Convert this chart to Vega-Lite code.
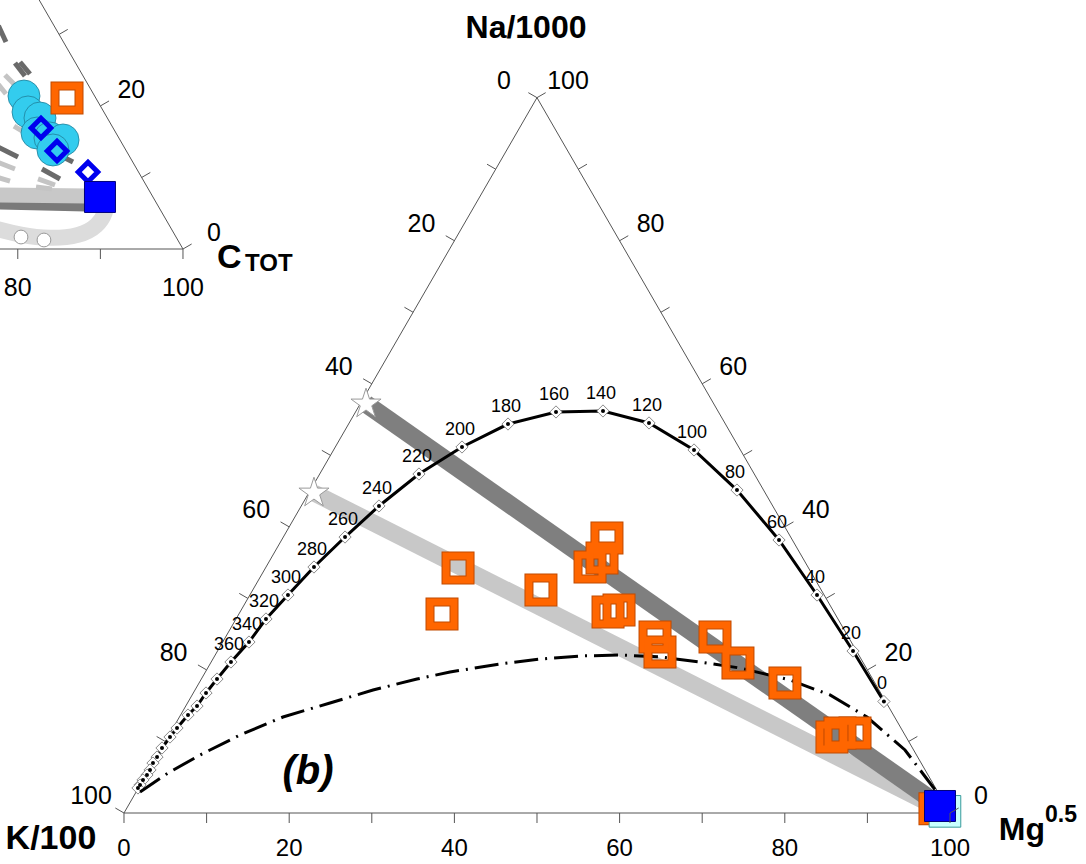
{
"$schema":"https://vega.github.io/schema/vega-lite/v6.json",
"width":1086,"height":864,"padding":0,"autosize":{"type":"none"},
"background":"#ffffff",
"config":{"view":{"stroke":null},"font":"Liberation Sans","text":{"font":"Liberation Sans"}},
"datasets":{
"tri":[{"x":0,"y":0,"i":0},{"x":100,"y":0,"i":1},{"x":50,"y":86.603,"i":2},{"x":0,"y":0,"i":3}],
"tb":[{"x":0,"y":0},{"x":10,"y":0},{"x":20,"y":0},{"x":30,"y":0},{"x":40,"y":0},{"x":50,"y":0},{"x":60,"y":0},{"x":70,"y":0},{"x":80,"y":0},{"x":90,"y":0},{"x":100,"y":0}],
"tl":[{"x":0,"y":0},{"x":5,"y":8.66},{"x":10,"y":17.321},{"x":15,"y":25.981},{"x":20,"y":34.641},{"x":25,"y":43.301},{"x":30,"y":51.962},{"x":35,"y":60.622},{"x":40,"y":69.282},{"x":45,"y":77.942},{"x":50,"y":86.603}],
"tr":[{"x":100,"y":0},{"x":95,"y":8.66},{"x":90,"y":17.321},{"x":85,"y":25.981},{"x":80,"y":34.641},{"x":75,"y":43.301},{"x":70,"y":51.962},{"x":65,"y":60.622},{"x":60,"y":69.282},{"x":55,"y":77.942},{"x":50,"y":86.603}],
"lb":[{"x":0,"y":0,"t":"0"},{"x":20,"y":0,"t":"20"},{"x":40,"y":0,"t":"40"},{"x":60,"y":0,"t":"60"},{"x":80,"y":0,"t":"80"},{"x":100,"y":0,"t":"100"}],
"ll":[{"x":0,"y":0,"t":"100"},{"x":10,"y":17.321,"t":"80"},{"x":20,"y":34.641,"t":"60"},{"x":30,"y":51.962,"t":"40"},{"x":40,"y":69.282,"t":"20"},{"x":50,"y":86.603,"t":"0"}],
"lr":[{"x":100,"y":0,"t":"0"},{"x":90,"y":17.321,"t":"20"},{"x":80,"y":34.641,"t":"40"},{"x":70,"y":51.962,"t":"60"},{"x":60,"y":69.282,"t":"80"},{"x":50,"y":86.603,"t":"100"}],
"ptri":[{"x":-16,"y":68.28,"i":0},{"x":7.14,"y":68.28,"i":1},{"x":-12.86,"y":102.92,"i":2}],
"ptb":[{"x":-12.86,"y":68.28},{"x":-2.86,"y":68.28},{"x":7.14,"y":68.28}],
"ptr":[{"x":7.14,"y":68.28},{"x":2.14,"y":76.94},{"x":-2.86,"y":85.6},{"x":-7.86,"y":94.26}],
"plb":[{"x":-12.86,"y":68.28,"t":"80"},{"x":7.14,"y":68.28,"t":"100"}],
"plr":[{"x":7.14,"y":68.28,"t":"0"},{"x":-2.86,"y":85.6,"t":"20"}],
"pband":[
{"g":"dark","x":-15.5,"y":73.61,"i":0},{"g":"dark","x":-4.6,"y":73.37,"i":1},
{"g":"light","x":-15.5,"y":74.82,"i":0},{"g":"light","x":-4.36,"y":74.7,"i":1},
{"g":"u","x":-15.5,"y":70.75,"i":0},{"g":"u","x":-12.59,"y":69.98,"i":1},{"g":"u","x":-8.96,"y":69.49,"i":2},{"g":"u","x":-5.33,"y":69.85,"i":3},{"g":"u","x":-3.15,"y":71.07,"i":4},{"g":"u","x":-2.18,"y":72.76,"i":5},{"g":"u","x":-2.06,"y":74.21,"i":6}],
"pdash":[
{"c":"d","s":"a","x":-15.2,"y":95.3,"i":0},{"c":"d","s":"a","x":-14.29,"y":93.34,"i":1},
{"c":"d","s":"b","x":-13.2,"y":90.8,"i":0},{"c":"d","s":"b","x":-11.99,"y":89.23,"i":1},
{"c":"d","s":"c","x":-12.59,"y":90.92,"i":0},{"c":"d","s":"c","x":-11.38,"y":89.47,"i":1},
{"c":"l","s":"d","x":-14.41,"y":89.35,"i":0},{"c":"l","s":"d","x":-13.32,"y":88.26,"i":1},
{"c":"l","s":"e","x":-15.2,"y":88.2,"i":0},{"c":"l","s":"e","x":-14.29,"y":87.05,"i":1},
{"c":"d","s":"f","x":-15.2,"y":80.6,"i":0},{"c":"d","s":"f","x":-12.83,"y":79.42,"i":1},
{"c":"l","s":"g","x":-15.2,"y":78.75,"i":0},{"c":"l","s":"g","x":-13.2,"y":77.97,"i":1},
{"c":"l","s":"h","x":-15.2,"y":76.93,"i":0},{"c":"l","s":"h","x":-13.8,"y":76.51,"i":1},
{"c":"d","s":"i","x":-9.93,"y":77.97,"i":0},{"c":"d","s":"i","x":-7.75,"y":76.76,"i":1},
{"c":"l","s":"j","x":-10.41,"y":76.76,"i":0},{"c":"l","s":"j","x":-8.35,"y":76.03,"i":1},
{"c":"l","s":"k","x":-10.65,"y":75.79,"i":0},{"c":"l","s":"k","x":-8.72,"y":75.54,"i":1},
{"c":"d","s":"l","x":-7.14,"y":79.3,"i":0},{"c":"d","s":"l","x":-6.17,"y":78.81,"i":1},
{"c":"l","s":"m","x":-13.32,"y":83.17,"i":0},{"c":"l","s":"m","x":-12.35,"y":82.57,"i":1}],
"pwhite":[{"x":-12.47,"y":69.73},{"x":-9.69,"y":69.37}],
"pcyan":[{"x":-12.11,"y":86.8},{"x":-11.62,"y":84.87},{"x":-10.17,"y":84.14},{"x":-10.53,"y":82.32},{"x":-8.96,"y":81.72},{"x":-7.38,"y":81.48},{"x":-8.6,"y":80.27}],
"pdiam":[{"x":-10.05,"y":82.93},{"x":-8.11,"y":80.15},{"x":-4.36,"y":77.6}],
"porange":[{"x":-6.9,"y":86.56}],
"pblue":[{"x":-2.91,"y":74.58}],
"bandD":[{"x":29.3,"y":49.52,"i":0},{"x":99.2,"y":0.6,"i":1}],
"bandL":[{"x":23.0,"y":38.74,"i":0},{"x":98.4,"y":0.7,"i":1}],
"stars":[{"x":29.3,"y":49.52},{"x":23.0,"y":38.74}],
"curve":[{"x":92.0,"y":13.5,"i":0,"t":"0"},{"x":88.26,"y":19.61,"i":1,"t":"20"},{"x":83.9,"y":26.39,"i":2,"t":"40"},{"x":79.3,"y":33.05,"i":3,"t":"60"},{"x":74.21,"y":39.1,"i":4,"t":"80"},{"x":69.01,"y":43.95,"i":5,"t":"100"},{"x":63.56,"y":47.22,"i":6,"t":"120"},{"x":57.99,"y":48.67,"i":7,"t":"140"},{"x":52.3,"y":48.55,"i":8,"t":"160"},{"x":46.49,"y":47.09,"i":9,"t":"180"},{"x":40.92,"y":44.31,"i":10,"t":"200"},{"x":35.71,"y":41.04,"i":11,"t":"220"},{"x":30.87,"y":37.17,"i":12,"t":"240"},{"x":26.76,"y":33.41,"i":13,"t":"260"},{"x":23.0,"y":29.78,"i":14,"t":"280"},{"x":19.85,"y":26.39,"i":15,"t":"300"},{"x":17.19,"y":23.49,"i":16,"t":"320"},{"x":15.13,"y":20.7,"i":17,"t":"340"},{"x":12.95,"y":18.28,"i":18,"t":"360"},{"x":11.26,"y":16.22,"i":19,"t":""},{"x":9.93,"y":14.53,"i":20,"t":""},{"x":8.84,"y":12.95,"i":21,"t":""},{"x":7.75,"y":11.86,"i":22,"t":""},{"x":6.42,"y":10.29,"i":23,"t":""},{"x":5.57,"y":9.2,"i":24,"t":""},{"x":4.6,"y":7.87,"i":25,"t":""},{"x":4.0,"y":6.78,"i":26,"t":""},{"x":3.51,"y":6.05,"i":27,"t":""},{"x":3.15,"y":5.21,"i":28,"t":""},{"x":2.78,"y":4.6,"i":29,"t":""},{"x":2.3,"y":4.0,"i":30,"t":""},{"x":1.94,"y":3.39,"i":31,"t":""},{"x":1.69,"y":3.03,"i":32,"t":""}],
"dashdot":[{"x":1.94,"y":2.54,"i":0},{"x":5.33,"y":4.84,"i":1},{"x":9.2,"y":7.02,"i":2},{"x":14.04,"y":9.44,"i":3},{"x":19.25,"y":11.62,"i":4},{"x":24.94,"y":13.32,"i":5},{"x":30.15,"y":14.89,"i":6},{"x":35.47,"y":16.22,"i":7},{"x":39.47,"y":17.07,"i":8},{"x":45.52,"y":18.04,"i":9},{"x":50.36,"y":18.64,"i":10},{"x":55.21,"y":19.01,"i":11},{"x":60.05,"y":19.13,"i":12},{"x":64.89,"y":18.89,"i":13},{"x":69.73,"y":18.28,"i":14},{"x":74.58,"y":17.55,"i":15},{"x":80.63,"y":16.1,"i":16},{"x":85.47,"y":14.29,"i":17},{"x":89.95,"y":11.62,"i":18},{"x":94.55,"y":7.63,"i":19},{"x":97.94,"y":3.15,"i":20},{"x":98.79,"y":1.94,"i":21}],
"orange":[{"x":40.44,"y":29.66},{"x":38.5,"y":24.09},{"x":50.48,"y":27.0},{"x":56.42,"y":29.78},{"x":57.87,"y":30.87},{"x":58.47,"y":33.29},{"x":58.6,"y":24.33},{"x":59.93,"y":24.58},{"x":64.29,"y":21.31},{"x":64.89,"y":19.49},{"x":71.55,"y":21.31},{"x":74.33,"y":18.16},{"x":80.02,"y":15.74},{"x":85.71,"y":9.2},{"x":86.68,"y":9.69},{"x":88.5,"y":9.69},{"x":98.18,"y":0.5}],
"cyanSq":[{"x":99.39,"y":0.2}],
"blueSq":[{"x":98.79,"y":0.85}]
},
"encoding":{
"x":{"field":"x","type":"quantitative","scale":{"domain":[-15.012,116.465],"nice":false,"zero":false},"axis":null},
"y":{"field":"y","type":"quantitative","scale":{"domain":[-6.174,98.426],"nice":false,"zero":false},"axis":null}
},
"layer":[
{"data":{"name":"pband"},"transform":[{"filter":"datum.g=='u'"}],"mark":{"type":"line","color":"#dcdcdc","strokeWidth":16,"interpolate":"basis","clip":true},"encoding":{"order":{"field":"i","type":"quantitative"}}},
{"data":{"name":"pband"},"transform":[{"filter":"datum.g=='dark'"}],"mark":{"type":"line","color":"#7a7a7a","strokeWidth":9,"clip":true},"encoding":{"order":{"field":"i","type":"quantitative"}}},
{"data":{"name":"pband"},"transform":[{"filter":"datum.g=='light'"}],"mark":{"type":"line","color":"#c8c8c8","strokeWidth":15,"clip":true},"encoding":{"order":{"field":"i","type":"quantitative"}}},
{"data":{"name":"pdash"},"transform":[{"filter":"datum.c=='l'"}],"mark":{"type":"line","color":"#c4c4c4","strokeWidth":5,"clip":true},"encoding":{"order":{"field":"i","type":"quantitative"},"detail":{"field":"s"}}},
{"data":{"name":"pdash"},"transform":[{"filter":"datum.c=='d'"}],"mark":{"type":"line","color":"#6a6a6a","strokeWidth":5,"clip":true},"encoding":{"order":{"field":"i","type":"quantitative"},"detail":{"field":"s"}}},
{"data":{"name":"pwhite"},"mark":{"type":"point","shape":"circle","size":190,"filled":true,"fill":"#ffffff","stroke":"#999999","strokeWidth":1,"opacity":1,"clip":true}},
{"data":{"name":"ptri"},"mark":{"type":"line","color":"#555555","strokeWidth":1,"clip":true},"encoding":{"order":{"field":"i","type":"quantitative"}}},
{"data":{"name":"ptb"},"mark":{"type":"point","shape":"M0,0L0,2","size":100,"filled":false,"stroke":"#555555","strokeWidth":1,"opacity":1,"clip":true}},
{"data":{"name":"ptr"},"mark":{"type":"point","shape":"M0,0L1.732,-1","size":100,"filled":false,"stroke":"#555555","strokeWidth":1,"opacity":1,"clip":true}},
{"data":{"name":"plb"},"mark":{"type":"text","fontSize":25,"dy":39,"align":"center","baseline":"middle","color":"#000000","clip":true},"encoding":{"text":{"field":"t"}}},
{"data":{"name":"plr"},"mark":{"type":"text","fontSize":25,"dx":31,"dy":-16,"align":"center","baseline":"middle","color":"#000000","clip":true},"encoding":{"text":{"field":"t"}}},
{"data":{"name":"pcyan"},"mark":{"type":"point","shape":"circle","size":1024,"filled":true,"fill":"#33ccee","stroke":"#1f7f99","strokeWidth":0.8,"opacity":1,"clip":true}},
{"data":{"name":"porange"},"mark":{"type":"point","shape":"square","size":576,"filled":false,"stroke":"#c04a00","strokeWidth":9,"opacity":1,"clip":true}},
{"data":{"name":"porange"},"mark":{"type":"point","shape":"square","size":576,"filled":false,"stroke":"#ff6600","strokeWidth":7,"opacity":1,"clip":true}},
{"data":{"name":"pdiam"},"mark":{"type":"point","shape":"diamond","size":380,"filled":false,"stroke":"#0000ee","strokeWidth":5,"opacity":1,"clip":true}},
{"data":{"name":"pblue"},"mark":{"type":"point","shape":"square","size":960,"filled":true,"fill":"#0000ff","stroke":"#00007a","strokeWidth":1,"opacity":1,"clip":true}},
{"data":{"values":[{"x":11.26,"y":65.98}]},"mark":{"type":"text","text":"C","fontSize":34,"fontWeight":"bold","align":"left","baseline":"alphabetic","color":"#000000"}},
{"data":{"values":[{"x":14.65,"y":65.62}]},"mark":{"type":"text","text":"TOT","fontSize":24,"fontWeight":"bold","align":"left","baseline":"alphabetic","color":"#000000"}},

{"data":{"name":"tri"},"mark":{"type":"line","color":"#555555","strokeWidth":1},"encoding":{"order":{"field":"i","type":"quantitative"}}},
{"data":{"name":"bandL"},"mark":{"type":"line","color":"#c8c8c8","strokeWidth":17},"encoding":{"order":{"field":"i","type":"quantitative"}}},
{"data":{"name":"bandD"},"mark":{"type":"line","color":"#7f7f7f","strokeWidth":18},"encoding":{"order":{"field":"i","type":"quantitative"}}},
{"data":{"name":"stars"},"mark":{"type":"point","shape":"M0,-1L0.2245,-0.309L0.951,-0.309L0.3633,0.118L0.5878,0.809L0,0.382L-0.5878,0.809L-0.3633,0.118L-0.951,-0.309L-0.2245,-0.309Z","size":1000,"filled":true,"fill":"#ffffff","stroke":"#9a9a9a","strokeWidth":1,"opacity":1}},
{"data":{"name":"curve"},"mark":{"type":"line","color":"#000000","strokeWidth":3},"encoding":{"order":{"field":"i","type":"quantitative"}}},
{"data":{"name":"curve"},"mark":{"type":"point","shape":"diamond","size":150,"filled":true,"fill":"#ffffff","stroke":"#8a8a8a","strokeWidth":1,"opacity":1}},
{"data":{"name":"curve"},"mark":{"type":"point","shape":"circle","size":16,"filled":true,"fill":"#000000","strokeWidth":0,"opacity":1}},
{"data":{"name":"curve"},"transform":[{"filter":"datum.t != ''"}],"mark":{"type":"text","fontSize":18,"dx":-2,"dy":-17,"align":"center","baseline":"middle","color":"#000000"},"encoding":{"text":{"field":"t"}}},
{"data":{"name":"dashdot"},"mark":{"type":"line","color":"#000000","strokeWidth":3,"strokeDash":[24,7,2,7]},"encoding":{"order":{"field":"i","type":"quantitative"}}},
{"data":{"name":"orange"},"mark":{"type":"point","shape":"square","size":576,"filled":false,"stroke":"#c04a00","strokeWidth":9,"opacity":1}},
{"data":{"name":"orange"},"mark":{"type":"point","shape":"square","size":576,"filled":false,"stroke":"#ff6600","strokeWidth":7,"opacity":1}},
{"data":{"name":"cyanSq"},"mark":{"type":"point","shape":"square","size":1000,"filled":true,"fill":"#c8ffff","stroke":"#3a9a9a","strokeWidth":1,"opacity":1}},
{"data":{"name":"blueSq"},"mark":{"type":"point","shape":"square","size":960,"filled":true,"fill":"#0000ff","stroke":"#00007a","strokeWidth":1,"opacity":1}},
{"data":{"name":"tb"},"mark":{"type":"point","shape":"M0,0L0,2","size":100,"filled":false,"stroke":"#555555","strokeWidth":1,"opacity":1}},
{"data":{"name":"tl"},"mark":{"type":"point","shape":"M0,0L-1.732,-1","size":100,"filled":false,"stroke":"#555555","strokeWidth":1,"opacity":1}},
{"data":{"name":"tr"},"mark":{"type":"point","shape":"M0,0L1.732,-1","size":100,"filled":false,"stroke":"#555555","strokeWidth":1,"opacity":1}},
{"data":{"name":"lb"},"mark":{"type":"text","fontSize":24,"dy":36,"align":"center","baseline":"middle","color":"#000000"},"encoding":{"text":{"field":"t"}}},
{"data":{"name":"ll"},"mark":{"type":"text","fontSize":25,"dx":-33,"dy":-17,"align":"center","baseline":"middle","color":"#000000"},"encoding":{"text":{"field":"t"}}},
{"data":{"name":"lr"},"mark":{"type":"text","fontSize":25,"dx":31,"dy":-17,"align":"center","baseline":"middle","color":"#000000"},"encoding":{"text":{"field":"t"}}},
{"data":{"values":[{"x":48.67,"y":93.83}]},"mark":{"type":"text","text":"Na/1000","fontSize":32,"fontWeight":"bold","align":"center","baseline":"alphabetic","color":"#000000"}},
{"data":{"values":[{"x":-8.84,"y":-4.3}]},"mark":{"type":"text","text":"K/100","fontSize":34,"fontWeight":"bold","align":"center","baseline":"alphabetic","color":"#000000"}},
{"data":{"values":[{"x":105.9,"y":-3.27}]},"mark":{"type":"text","text":"Mg","fontSize":32,"fontWeight":"bold","align":"left","baseline":"alphabetic","color":"#000000"}},
{"data":{"values":[{"x":111.5,"y":-1.09}]},"mark":{"type":"text","text":"0.5","fontSize":23,"fontWeight":"bold","align":"left","baseline":"alphabetic","color":"#000000"}},
{"data":{"values":[{"x":22.28,"y":4.96}]},"mark":{"type":"text","text":"(b)","fontSize":40,"fontWeight":"bold","fontStyle":"italic","align":"center","baseline":"middle","color":"#000000"}}
]
}
